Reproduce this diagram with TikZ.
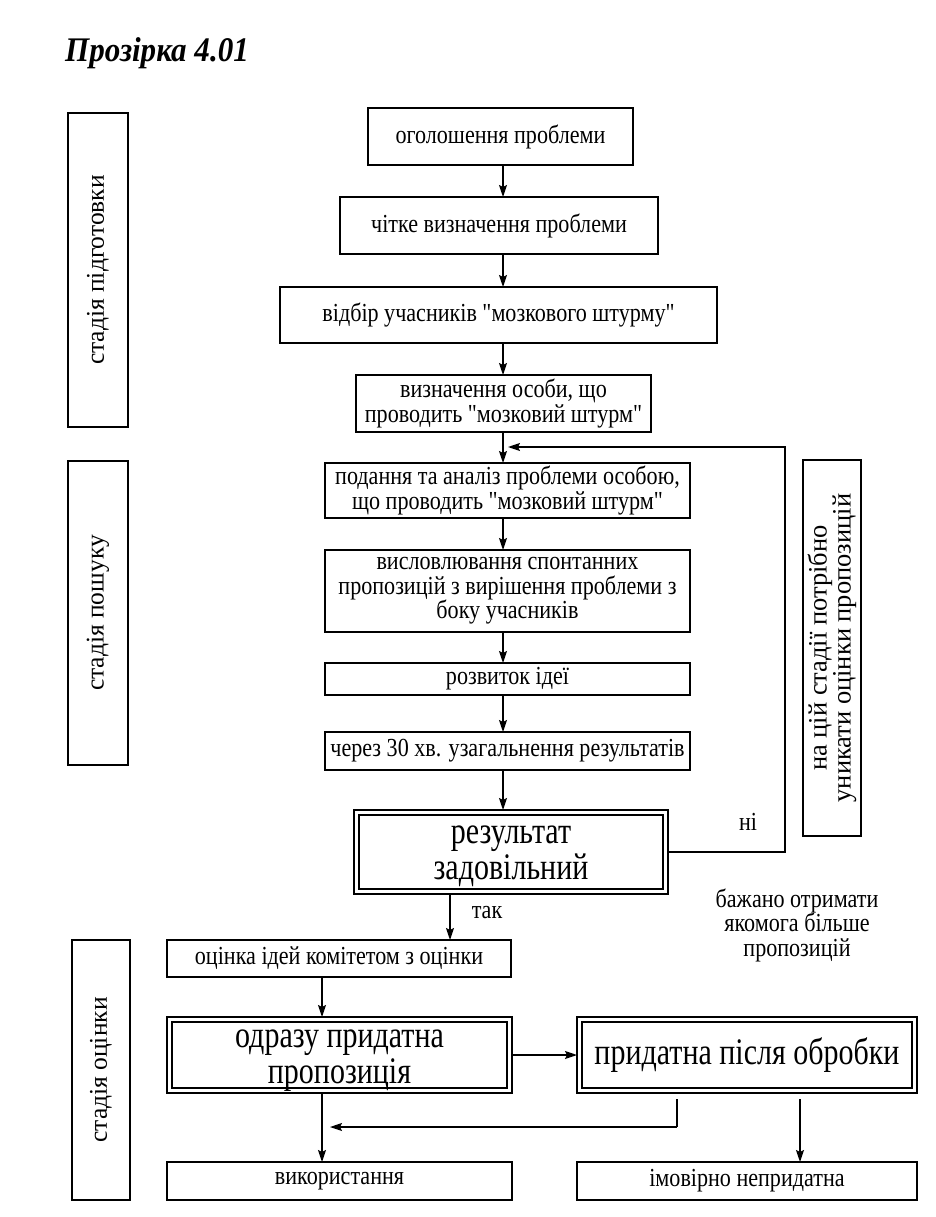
\documentclass[tikz,border=0pt]{standalone}
\usepackage{fontspec}
\setmainfont{Liberation Serif}[FakeStretch=0.85, Ligatures=TeXOff]
\newfontfamily\bigf{Liberation Serif}[FakeStretch=0.8, Ligatures=TeXOff]
\newfontfamily\rotf{Liberation Serif}[Ligatures=TeXOff]
\newfontfamily\titf{Liberation Serif}[FakeStretch=0.9]
\usetikzlibrary{arrows.meta}
\newcommand\normtxt{\fontsize{26}{24.5}\selectfont}
\newcommand\bigtxt{\bigf\fontsize{37.5}{36}\selectfont}
\newcommand\rottxt{\rotf\fontsize{25.5}{24}\selectfont}
\begin{document}
\begin{tikzpicture}[x=1pt,y=-1pt,
  box/.style={draw, line width=1.5pt, inner sep=2pt, outer sep=0pt, align=center, font=\normtxt},
  dbox/.style={draw, line width=2.4pt, inner sep=0pt, outer sep=0pt},
  bigtext/.style={inner sep=0pt, align=center, font=\bigtxt},
  arr/.style={line width=1.5pt, -{Stealth[length=12pt,width=8pt,inset=2pt]}},
  lbl/.style={inner sep=0pt, align=center, font=\normtxt}]
\useasboundingbox (0,0) rectangle (936,1217);
% title
\node[anchor=base west, inner sep=0pt, font=\titf\bfseries\itshape\fontsize{34.5}{34.5}\selectfont] (title) at (65,62) {Прозірка 4.01};
% stage boxes
\node[box, rotate=90, minimum width=314pt, minimum height=60pt, font=\rottxt] (s1) at (98,270) {стадія підготовки};
\node[box, rotate=90, minimum width=304pt, minimum height=60pt, font=\rottxt] (s2) at (98,613) {стадія пошуку};
\node[box, rotate=90, minimum width=260pt, minimum height=58pt, font=\rottxt] (s3) at (101,1070) {стадія оцінки};
\node[box, rotate=90, minimum width=376pt, minimum height=58pt, font=\rotf\fontsize{26.5}{24}\selectfont] (rn) at (832,648) {на цій стадії потрібно\\уникати оцінки пропозицій};
% main column
\coordinate (col) at (503,0);
\node[box, minimum width=265pt, minimum height=57pt] (b1) at (500.5,136.5) {оголошення проблеми};
\node[box, minimum width=318pt, minimum height=57pt] (b2) at (499,225.5) {чітке визначення проблеми};
\node[box, minimum width=437pt, minimum height=56pt] (b3) at (498.5,315) {відбір учасників "мозкового штурму"};
\node[box, minimum width=295pt, minimum height=57pt] (b4) at (503.5,403.5) {визначення особи, що\\проводить "мозковий штурм"};
\node[box, minimum width=365pt, minimum height=55pt] (b5) at (507.5,490.5) {подання та аналіз проблеми особою,\\що проводить "мозковий штурм"};
\node[box, minimum width=365pt, minimum height=82pt] (b6) at (507.5,591) {висловлювання спонтанних\\пропозицій з вирішення проблеми з\\боку учасників};
\node[box, minimum width=365pt, minimum height=32pt, inner sep=0pt] (b7) at (507.5,679) {розвиток ідеї};
\node[box, minimum width=365pt, minimum height=38pt] (b8) at (507.5,751) {через 30 хв. узагальнення результатів};
\node[dbox, minimum width=314pt, minimum height=84pt] (b9) at (511,852) {};
\node[box, minimum width=344pt, minimum height=37pt] (b10) at (339,958.5) {оцінка ідей комітетом з оцінки};
\node[dbox, minimum width=345pt, minimum height=76pt] (b11) at (339.5,1055) {};
\node[dbox, minimum width=340pt, minimum height=76pt] (b12) at (747,1055) {};
\node[box, minimum width=345pt, minimum height=38pt] (b13) at (339.5,1181) {використання};
\node[box, minimum width=340pt, minimum height=38pt] (b14) at (747,1181) {імовірно непридатна};
% inner lines of double boxes and their texts
\foreach \n in {b9,b11,b12}
  \draw[line width=1.1pt] ([xshift=5pt,yshift=-5pt]\n.north west) rectangle ([xshift=-5pt,yshift=5pt]\n.south east);
\node[bigtext] (b9t) at ([yshift=-4pt]b9.center) {результат\\задовільний};
\node[bigtext] (b11t) at ([yshift=-6pt]b11.center) {одразу придатна\\пропозиція};
\node[bigtext] (b12t) at (b12.center) {придатна після обробки};
% labels
\node[lbl] (yes) at (487,913) {так};
\node[lbl] (no) at (748,822) {ні};
\node[lbl] (note) at (797,925) {бажано отримати\\якомога більше\\пропозицій};
% arrows in main column
\draw[arr] (b1.south -| col) -- (b2.north -| col);
\draw[arr] (b2.south -| col) -- (b3.north -| col);
\draw[arr] (b3.south -| col) -- (b4.north -| col);
\draw[arr] (b4.south -| col) -- (b5.north -| col);
\draw[arr] (b5.south -| col) -- (b6.north -| col);
\draw[arr] (b6.south -| col) -- (b7.north -| col);
\draw[arr] (b7.south -| col) -- (b8.north -| col);
\draw[arr] (b8.south -| col) -- (b9.north -| col);
% loop back (ні)
\coordinate (lr) at (785,447);
\coordinate (lt) at (508,447);
\draw[arr] (b9.east) -| (lr) -- (lt);
% так
\coordinate (c9) at (450,0);
\draw[arr] (b9.south -| c9) -- (b10.north -| c9);
% evaluation stage
\coordinate (c10) at (322,0);
\draw[arr] (b10.south -| c10) -- (b11.north -| c10);
\draw[arr] (b11.east) -- (b12.west);
\draw[arr] (b11.south -| c10) -- (b13.north -| c10);
\coordinate (r1) at (677,1127);
\coordinate (r2) at (330,1127);
\draw[line width=1.5pt] ([yshift=-6pt]b12.south -| r1) -- (r1);
\draw[arr] (r1) -- (r2);
\coordinate (c12) at (800,0);
\draw[arr] ([yshift=-6pt]b12.south -| c12) -- (b14.north -| c12);
\end{tikzpicture}
\end{document}
